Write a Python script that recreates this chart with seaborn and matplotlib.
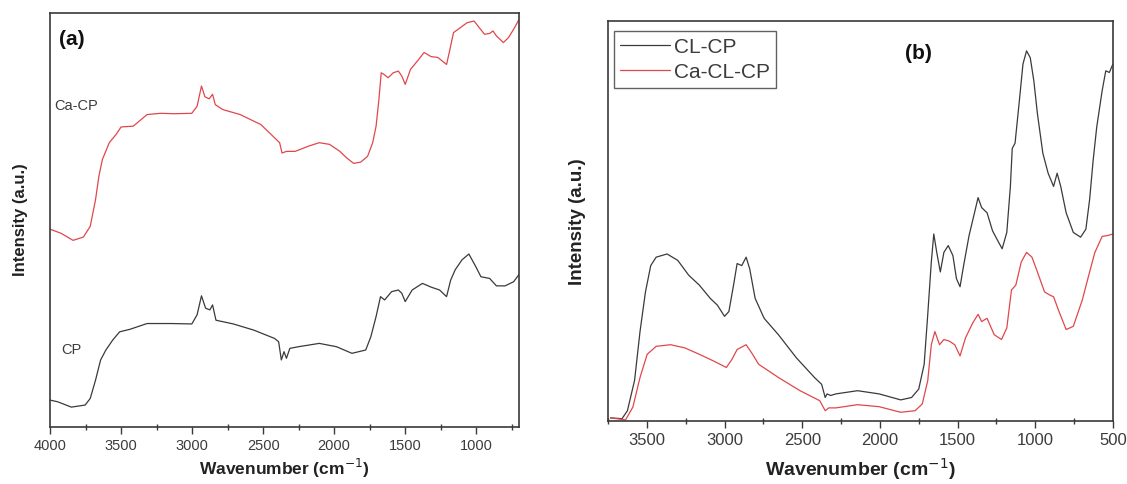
import matplotlib
matplotlib.use("Agg")
import matplotlib.pyplot as plt
import pandas as pd
import seaborn as sns
from matplotlib.ticker import MultipleLocator

# Panel (a): FTIR spectra of CP and Ca-CP (intensity in % of axis height)
a_red_wn = [4000, 3922, 3838, 3765, 3717, 3680, 3656, 3632, 3583, 3535,
            3500, 3414, 3317, 3220, 3123, 3002, 2965, 2934, 2910, 2880,
            2856, 2837, 2784, 2662, 2517, 2444, 2384, 2367, 2336, 2275,
            2178, 2105, 2033, 1960, 1911, 1863, 1814, 1765, 1729, 1705,
            1685, 1669, 1650, 1620, 1584, 1548, 1524, 1500, 1463, 1415,
            1367, 1318, 1270, 1209, 1185, 1160, 1112, 1064, 1015, 979,
            942, 906, 882, 858, 809, 773, 737, 700]
a_red_int = [47.8, 46.8, 45.1, 45.9, 48.5, 54.9, 60.6, 64.6, 68.7, 70.7,
             72.5, 72.7, 75.5, 75.8, 75.7, 75.8, 77.5, 82.4, 79.8, 79.3,
             80.4, 77.9, 76.7, 75.5, 73.1, 70.7, 68.7, 66.2, 66.6, 66.6,
             67.9, 68.7, 68.3, 66.6, 65.0, 63.7, 64.0, 65.4, 68.7, 72.7,
             79.2, 85.6, 85.2, 84.4, 85.6, 86.0, 84.8, 82.8, 86.4, 88.4,
             90.5, 89.5, 89.3, 87.6, 91.3, 95.3, 96.5, 97.7, 98.1, 96.5,
             94.9, 95.1, 95.7, 94.5, 92.9, 94.1, 96.1, 98.4]
a_blk_wn = [4000, 3947, 3850, 3753, 3717, 3680, 3644, 3607, 3559, 3510,
            3438, 3317, 3147, 3002, 2965, 2934, 2905, 2875, 2856, 2832,
            2710, 2565, 2420, 2391, 2372, 2353, 2336, 2312, 2251, 2105,
            1984, 1875, 1778, 1742, 1705, 1674, 1645, 1596, 1548, 1524,
            1500, 1451, 1379, 1318, 1258, 1209, 1180, 1148, 1100, 1052,
            1004, 967, 906, 858, 797, 737, 700]
a_blk_int = [6.5, 6.1, 4.8, 5.3, 6.9, 11.3, 16.2, 18.6, 21.0, 23.0,
             23.6, 25.0, 25.0, 24.9, 27.1, 31.7, 28.7, 28.3, 29.5, 25.8,
             24.9, 23.4, 21.4, 20.6, 16.2, 18.2, 16.6, 19.0, 19.4, 20.2,
             19.4, 17.8, 18.6, 21.8, 26.7, 31.5, 30.7, 32.7, 33.1, 32.3,
             30.3, 33.1, 34.7, 33.8, 33.1, 31.5, 35.5, 38.0, 40.4, 41.8,
             38.8, 36.3, 35.9, 34.1, 34.1, 35.1, 36.8]

# Panel (b): CL-CP and Ca-CL-CP
b_blk_wn = [3734, 3660, 3625, 3579, 3544, 3509, 3475, 3440, 3370, 3301,
            3231, 3162, 3092, 3046, 3000, 2972, 2942, 2919, 2889, 2861,
            2838, 2803, 2745, 2653, 2537, 2421, 2375, 2352, 2340, 2317,
            2283, 2144, 2005, 1866, 1796, 1750, 1715, 1692, 1669, 1653,
            1634, 1611, 1588, 1560, 1530, 1507, 1484, 1461, 1426, 1391,
            1368, 1345, 1310, 1275, 1241, 1213, 1183, 1160, 1148, 1130,
            1102, 1079, 1056, 1032, 1009, 986, 951, 917, 882, 859,
            836, 801, 755, 708, 674, 650, 627, 604, 569, 546,
            523, 500]
b_blk_int = [0.8, 0.6, 2.6, 10.2, 22.4, 32.3, 38.9, 41.0, 41.8, 40.2,
             36.5, 34.0, 30.7, 29.0, 26.2, 27.4, 34.0, 39.4, 38.9, 41.0,
             38.1, 30.7, 25.7, 21.6, 15.8, 10.9, 9.2, 5.9, 6.8, 6.4,
             6.8, 7.6, 6.8, 5.3, 5.9, 8.0, 14.2, 26.6, 39.8, 46.8,
             42.2, 37.3, 42.2, 43.9, 41.4, 35.6, 33.6, 38.9, 46.4, 52.1,
             55.9, 53.4, 52.1, 47.6, 45.1, 43.1, 47.2, 58.7, 68.2, 69.5,
             80.2, 89.3, 92.6, 90.9, 85.1, 76.9, 67.0, 62.0, 58.7, 62.0,
             58.7, 52.1, 47.2, 46.0, 48.0, 55.4, 65.3, 73.6, 82.7, 87.6,
             87.2, 89.3]
b_red_wn = [3734, 3637, 3590, 3544, 3498, 3440, 3347, 3255, 3162, 3069,
            2988, 2953, 2919, 2861, 2826, 2780, 2653, 2514, 2387, 2352,
            2329, 2283, 2144, 2005, 1866, 1773, 1727, 1692, 1669, 1646,
            1616, 1588, 1553, 1518, 1484, 1449, 1403, 1368, 1345, 1310,
            1264, 1217, 1183, 1153, 1125, 1090, 1056, 1021, 986, 940,
            905, 882, 847, 801, 755, 697, 650, 616, 569, 535,
            500]
b_red_int = [0.8, 0.3, 3.5, 10.9, 16.7, 18.7, 19.1, 18.3, 16.7, 15.0,
             13.4, 15.4, 17.9, 19.1, 17.1, 14.2, 10.9, 7.6, 5.1, 2.6,
             3.3, 3.3, 4.1, 3.6, 2.2, 2.6, 4.3, 10.1, 19.1, 22.4,
             19.1, 20.4, 20.0, 19.1, 16.3, 20.8, 24.5, 26.7, 24.9, 25.7,
             21.6, 20.4, 23.3, 32.8, 34.0, 39.8, 42.2, 41.0, 37.3, 32.3,
             31.5, 31.1, 27.4, 22.9, 23.7, 30.3, 37.3, 42.2, 46.2, 46.4,
             46.8]

BLACK = "#3a3a3a"
RED = "#e0474c"
TXT = "#3c3c3c"

sns.set_style("white")
plt.rcParams["font.family"] = ["Liberation Sans", "DejaVu Sans"]

fig = plt.figure(figsize=(11.27, 4.84), dpi=100)
ax_a = fig.add_axes([0.0444, 0.1178, 0.416, 0.855])
ax_b = fig.add_axes([0.5395, 0.130, 0.448, 0.826])

df_a_red = pd.DataFrame({"wn": a_red_wn, "I": a_red_int})
df_a_blk = pd.DataFrame({"wn": a_blk_wn, "I": a_blk_int})
sns.lineplot(data=df_a_red, x="wn", y="I", ax=ax_a, color=RED, lw=0.9, estimator=None)
sns.lineplot(data=df_a_blk, x="wn", y="I", ax=ax_a, color=BLACK, lw=0.9, estimator=None)

df_b = pd.concat([
    pd.DataFrame({"wn": b_blk_wn, "I": b_blk_int, "sample": "CL-CP"}),
    pd.DataFrame({"wn": b_red_wn, "I": b_red_int, "sample": "Ca-CL-CP"}),
])
sns.lineplot(data=df_b, x="wn", y="I", hue="sample", ax=ax_b,
             palette={"CL-CP": BLACK, "Ca-CL-CP": RED}, lw=0.9, estimator=None)

for ax, xl, tick_fs, lab_fs in [(ax_a, (4000, 700), 10.5, 12.5), (ax_b, (3750, 500), 12, 14)]:
    ax.set_xlim(*xl)
    ax.set_ylim(0, 100)
    ax.set_yticks([])
    ax.xaxis.set_major_locator(MultipleLocator(500))
    ax.xaxis.set_minor_locator(MultipleLocator(250))
    ax.tick_params(axis="x", which="major", direction="out", length=5, width=1,
                   color=BLACK, labelsize=tick_fs, labelcolor=TXT, bottom=True)
    ax.tick_params(axis="x", which="minor", direction="inout", length=4, width=1,
                   color=BLACK, bottom=True)
    for s in ax.spines.values():
        s.set_color(BLACK)
        s.set_linewidth(1.2)
    ax.set_xlabel("Wavenumber (cm$^{-1}$)", fontsize=lab_fs, fontweight="bold", color="#222222")
    ax.set_ylabel("Intensity (a.u.)", fontsize=lab_fs - 0.5, fontweight="bold", color="#222222")

ax_a.xaxis.labelpad = 3
ax_a.yaxis.labelpad = 16
ax_b.xaxis.labelpad = 6
ax_b.yaxis.labelpad = 16

ax_a.text(0.02, 0.937, "(a)", transform=ax_a.transAxes, fontsize=15, fontweight="bold",
          va="center", ha="left", color="#111111")
ax_a.text(0.01, 0.775, "Ca-CP", transform=ax_a.transAxes, fontsize=10.5, color=TXT,
          va="center", ha="left")
ax_a.text(0.024, 0.186, "CP", transform=ax_a.transAxes, fontsize=10.5, color=TXT,
          va="center", ha="left")
ax_b.text(0.615, 0.92, "(b)", transform=ax_b.transAxes, fontsize=15, fontweight="bold",
          va="center", ha="center", color="#111111")

leg = ax_b.legend(loc="upper left", bbox_to_anchor=(0.011, 0.975), borderaxespad=0,
                  fontsize=15, frameon=True, fancybox=False, handlelength=2.4,
                  handletextpad=0.2, borderpad=0.3, labelspacing=0.3, title=None)
leg.get_frame().set_edgecolor(BLACK)
leg.get_frame().set_linewidth(1.0)
for t in leg.get_texts():
    t.set_color(TXT)

fig.savefig("out.png", dpi=100)
